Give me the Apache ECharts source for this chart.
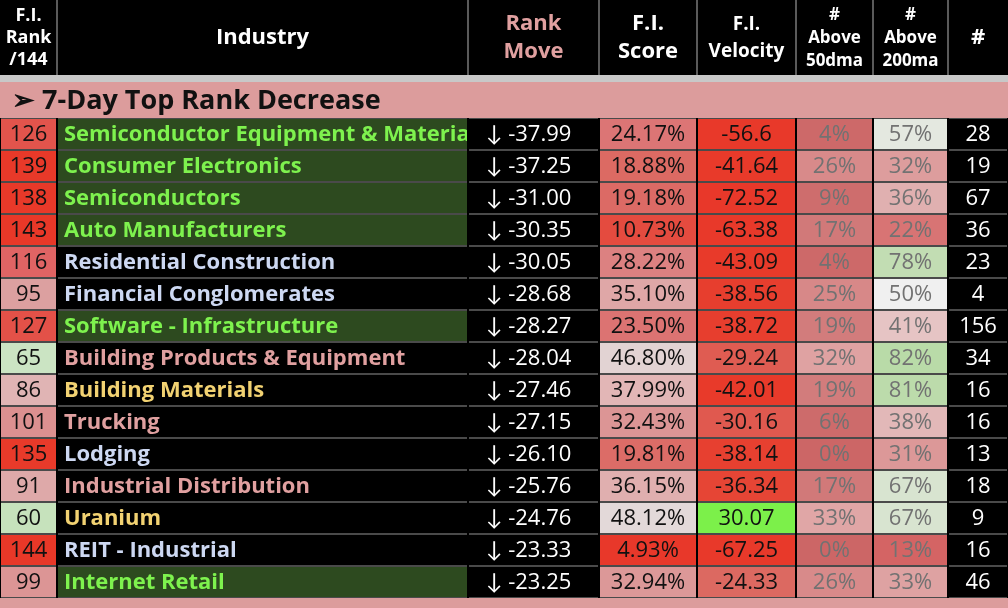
<!DOCTYPE html>
<html><head><meta charset="utf-8">
<script src="https://cdn.jsdelivr.net/npm/echarts@6/dist/echarts.min.js"></script>
<style>html,body{margin:0;padding:0;background:#000}#c{width:1008px;height:608px}</style>
</head><body><div id="c"></div>
<script>
// ---- data ----
const ranks = [126,139,138,143,116,95,127,65,86,101,135,91,60,144,99];
const industries = ['Semiconductor Equipment & Materials','Consumer Electronics','Semiconductors','Auto Manufacturers','Residential Construction','Financial Conglomerates','Software - Infrastructure','Building Products & Equipment','Building Materials','Trucking','Lodging','Industrial Distribution','Uranium','REIT - Industrial','Internet Retail'];
const groups = ['g','g','g','g','b','b','g','p','y','p','b','p','y','b','g'];
const rankMoves = [-37.99,-37.25,-31.00,-30.35,-30.05,-28.68,-28.27,-28.04,-27.46,-27.15,-26.10,-25.76,-24.76,-23.33,-23.25];
const fiScores = [24.17,18.88,19.18,10.73,28.22,35.10,23.50,46.80,37.99,32.43,19.81,36.15,48.12,4.93,32.94];
const velocities = [-56.6,-41.64,-72.52,-63.38,-43.09,-38.56,-38.72,-29.24,-42.01,-30.16,-38.14,-36.34,30.07,-67.25,-24.33];
const above50 = [4,26,9,17,4,25,19,32,19,6,0,17,33,0,26];
const above200 = [57,32,36,22,78,50,41,82,81,38,31,67,67,13,33];
const counts = [28,19,67,36,23,4,156,34,16,16,13,18,9,16,46];
const headers = [['F.I.','Rank','/144'],['Industry'],['Rank','Move'],['F.I.','Score'],['F.I.','Velocity'],['#','Above','50dma'],['#','Above','200ma'],['#']];
const sectionTitle = '➢ 7-Day Top Rank Decrease';

// ---- layout / style ----
const edges = [0,57,468,599,697,796,873,948,1008];
const FONT = '"Open Sans", Lato, sans-serif';
const groupText = {g:'#7ef24e', b:'#cdd8f2', p:'#e0a0a0', y:'#f2d272'};
const groupBg = {g:'#2d4a1f', b:'#000000', p:'#000000', y:'#000000'};

function hex(c){return [parseInt(c.slice(1,3),16),parseInt(c.slice(3,5),16),parseInt(c.slice(5,7),16)];}
function scale(stops, v){
  if (v <= stops[0][0]) return stops[0][1];
  if (v >= stops[stops.length-1][0]) return stops[stops.length-1][1];
  for (let i=0;i<stops.length-1;i++){
    const [a,ca]=stops[i],[b,cb]=stops[i+1];
    if (v>=a && v<=b){
      const t=(v-a)/(b-a), A=hex(ca), B=hex(cb);
      return 'rgb('+A.map((x,k)=>Math.round(x+(B[k]-x)*t)).join(',')+')';
    }
  }
}
const rankStops = [[1,'#7cf04a'],[60,'#c6e2bc'],[66,'#cce4c4'],[75,'#ececec'],[86,'#e0b4b4'],[95,'#dca0a0'],[101,'#dc9090'],[116,'#e06464'],[126,'#e2544c'],[135,'#e83a2a'],[144,'#e83828']];
const scoreStops = [[5,'#e8382a'],[11,'#e44c40'],[19,'#dc6a64'],[24,'#dc7474'],[28,'#dc8080'],[33,'#dc9898'],[36,'#e0aeae'],[38,'#e2b6b6'],[47,'#e2d4d4'],[50,'#e6e2e2'],[100,'#7cf04a']];
const velStops = [[-80,'#e8382a'],[-40,'#e83a2a'],[-36,'#e64636'],[-30,'#e05a50'],[-24,'#dc6a62'],[0,'#eeeeee'],[30,'#7cf04a']];
const a50Stops = [[0,'#cc6666'],[10,'#ce6e6e'],[20,'#d27e7e'],[26,'#d88a8a'],[33,'#e0a6a6'],[50,'#eeeeee'],[100,'#7cf04a']];
const a200Stops = [[0,'#d05050'],[13,'#d46464'],[22,'#d87474'],[31,'#dc9898'],[36,'#e0b0b0'],[41,'#e6c4c4'],[50,'#f0f0f0'],[57,'#e4e8e0'],[67,'#d8e4d0'],[80,'#bedcae'],[100,'#90d070']];

function cellInfo(c, r){
  switch(c){
    case 0: return {bg:scale(rankStops,ranks[r]), text:String(ranks[r]), fill:'#111', align:'center'};
    case 1: return {bg:groupBg[groups[r]], text:industries[r], fill:groupText[groups[r]], align:'left', bold:true};
    case 2: return {bg:'#000', text:'↓ '+rankMoves[r].toFixed(2), fill:'#fff', align:'left'};
    case 3: return {bg:scale(scoreStops,fiScores[r]), text:fiScores[r].toFixed(2)+'%', fill:'#111', align:'center'};
    case 4: return {bg:scale(velStops,velocities[r]), text:String(velocities[r]), fill:'#111', align:'center'};
    case 5: return {bg:scale(a50Stops,above50[r]), text:above50[r]+'%', fill:'#727272', align:'center'};
    case 6: return {bg:scale(a200Stops,above200[r]), text:above200[r]+'%', fill:'#727272', align:'center'};
    case 7: return {bg:'#000', text:String(counts[r]), fill:'#fff', align:'center'};
  }
}

const cells = [];
for (let c=0;c<8;c++) for (let r=0;r<ranks.length;r++) cells.push([c, r]);

const chart = echarts.init(document.getElementById('c'), null, {renderer:'canvas'});

// header graphics
const graphics = [
  {type:'rect', shape:{x:0,y:0,width:1008,height:75}, style:{fill:'#000'}},
  {type:'rect', shape:{x:0,y:75,width:1008,height:7}, style:{fill:'#c8c8c8'}},
  {type:'rect', shape:{x:0,y:82,width:1008,height:36}, style:{fill:'#dc9c9c'}},
  {type:'rect', shape:{x:0,y:598,width:1008,height:10}, style:{fill:'#dc9c9c'}},
  {type:'text', x:12, y:101, style:{text:sectionTitle, font:'bold 27px '+FONT, fill:'#111', verticalAlign:'middle'}}
];
for (let i=1;i<edges.length-1;i++){
  graphics.push({type:'rect', shape:{x:edges[i]-1,y:0,width:2,height:75}, style:{fill:'#5a5a5a'}});
}
const headerSizes = [18,22,22,22,19,17,17,22];
const headerLH = [22,28,28,28,27,23,23,28];
headers.forEach((lines, i) => {
  const cx = (edges[i]+edges[i+1])/2;
  const lh = headerLH[i];
  const y0 = 38 - (lines.length-1)*lh/2;
  lines.forEach((t, k) => {
    graphics.push({type:'text', x:cx, y:y0+k*lh, style:{text:t, font:'bold '+headerSizes[i]+'px '+FONT, fill: i===2?'#e0a0a0':'#fff', align:'center', verticalAlign:'middle'}});
  });
});

chart.setOption({
  backgroundColor:'#000',
  animation:false,
  grid:{left:0,right:0,top:118,bottom:10},
  xAxis:{type:'value', min:0, max:1008, show:false},
  yAxis:{type:'category', data:industries, inverse:true, show:false},
  graphic: graphics,
  series:[{
    type:'custom',
    data: cells,
    encode:{x:0, y:1},
    renderItem:(params, api) => {
      const c = api.value(0), r = api.value(1);
      const p0 = api.coord([edges[c], r]);
      const p1 = api.coord([edges[c+1], r]);
      const h = api.size([0,1])[1];
      const top = p0[1]-h/2;
      const x = p0[0]+1, w = p1[0]-p0[0]-2;
      const info = cellInfo(c, r);
      let tx;
      if (info.align==='center') tx = x + w/2;
      else if (c===1) tx = x + 6;
      else tx = x + 17;
      return {type:'group', children:[
        {type:'rect', shape:{x:x, y:top, width:w, height:h}, style:{fill:'#4a4a4a'}},
        {type:'rect', shape:{x:x, y:top+1, width:w, height:h-2}, style:{fill:info.bg}},
        {type:'group', clipPath:{type:'rect', shape:{x:x, y:top+1, width:w, height:h-2}}, children:[
          {type:'text', x:tx, y:p0[1]+1, style:{text:info.text, font:(info.bold?'bold ':'')+'22px '+FONT, fill:info.fill, align:info.align, verticalAlign:'middle'}}
        ]}
      ]};
    }
  }]
});
</script></body></html>
